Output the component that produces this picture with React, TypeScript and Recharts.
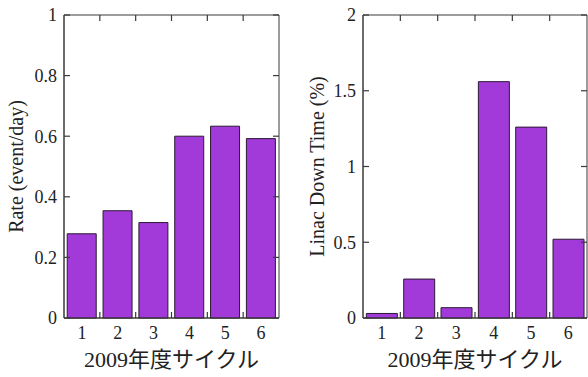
import React from 'react';
import { BarChart, Bar, XAxis, YAxis, ReferenceArea } from 'recharts';

const cycles = ['1', '2', '3', '4', '5', '6'];
const rateValues = [0.278, 0.354, 0.315, 0.6, 0.633, 0.592];
const downTimeValues = [0.03, 0.257, 0.068, 1.56, 1.26, 0.52];
const rateTicks = [0, 0.2, 0.4, 0.6, 0.8, 1];
const downTimeTicks = [0, 0.5, 1, 1.5, 2];
const xTitle = '2009年度サイクル';

const FONT = "'Liberation Serif', 'Times New Roman', 'Noto Sans CJK JP', serif";
const INK = '#222';
const FRAME = '#3a3a3a';
const PURPLE = '#a23ad9';
const TOP = 15;
const TICK = 6;

type PanelProps = {
  left: number;
  width: number;
  values: number[];
  ticks: number[];
  max: number;
  yLabel: string;
  yAxisWidth: number;
  labelOffset: number;
  marginRight: number;
};

function Panel({ left, width, values, ticks, max, yLabel, yAxisWidth, labelOffset, marginRight }: PanelProps) {
  const data = cycles.map((c, i) => ({ cycle: c, v: values[i] }));
  const plotW = width - marginRight - yAxisWidth;
  const band = plotW / cycles.length;

  // category label + inward ticks at the category boundaries (bottom and top)
  function renderXTick(props: any) {
    const { x, y, payload, index } = props;
    const axisY = y - 8;
    const bx = x + band / 2;
    return (
      <g key={`xt-${index}`}>
        {index < cycles.length - 1 && (
          <g stroke={FRAME} strokeWidth={1.2}>
            <line x1={bx} x2={bx} y1={axisY} y2={axisY - TICK} />
            <line x1={bx} x2={bx} y1={TOP} y2={TOP + TICK} />
          </g>
        )}
        <text x={x} y={y} dy="0.71em" textAnchor="middle" fontFamily={FONT} fontSize={18} fill={INK}>
          {payload.value}
        </text>
      </g>
    );
  }

  // value label + inward ticks on the left and right frame
  function renderYTick(props: any) {
    const { x, y, payload, index } = props;
    const axisX = x + 7;
    return (
      <g key={`yt-${index}`}>
        <g stroke={FRAME} strokeWidth={1.2}>
          <line x1={axisX} x2={axisX + TICK} y1={y} y2={y} />
          <line x1={axisX + plotW - TICK} x2={axisX + plotW} y1={y} y2={y} />
        </g>
        <text x={x} y={y} dy="0.35em" textAnchor="end" fontFamily={FONT} fontSize={18} fill={INK}>
          {payload.value}
        </text>
      </g>
    );
  }

  return (
    <div style={{ position: 'absolute', left, top: 0, fontFamily: FONT }}>
      <BarChart
        width={width}
        height={377}
        data={data}
        margin={{ top: TOP, right: marginRight, left: 0, bottom: 0 }}
        barCategoryGap="9%"
      >
        <Bar dataKey="v" fill={PURPLE} stroke="#2a1a33" strokeWidth={1} isAnimationActive={false} />
        <ReferenceArea y1={0} y2={max} fill="none" stroke={FRAME} strokeWidth={1} ifOverflow="visible" />
        <XAxis
          dataKey="cycle"
          height={59}
          tickLine={false}
          axisLine={{ stroke: FRAME }}
          tickSize={0}
          tickMargin={8}
          tick={renderXTick}
          label={{ value: xTitle, position: 'insideBottom', offset: 10, fill: INK, fontSize: 22, fontFamily: FONT }}
        />
        <YAxis
          domain={[0, max]}
          ticks={ticks}
          width={yAxisWidth}
          axisLine={{ stroke: FRAME }}
          tickLine={false}
          tickSize={0}
          tickMargin={7}
          tick={renderYTick}
          label={{
            value: yLabel,
            angle: -90,
            position: 'insideLeft',
            offset: labelOffset,
            fill: INK,
            fontSize: 20,
            fontFamily: FONT,
            style: { textAnchor: 'middle' },
          }}
        />
      </BarChart>
    </div>
  );
}

export default function App() {
  return (
    <div style={{ position: 'absolute', left: 0, top: 0, width: 588, height: 377 }}>
      <Panel
        left={0}
        width={290}
        values={rateValues}
        ticks={rateTicks}
        max={1}
        yLabel="Rate (event/day)"
        yAxisWidth={64}
        labelOffset={16}
        marginRight={11}
      />
      <Panel
        left={290}
        width={298}
        values={downTimeValues}
        ticks={downTimeTicks}
        max={2}
        yLabel="Linac Down Time (%)"
        yAxisWidth={73}
        labelOffset={27}
        marginRight={1}
      />
    </div>
  );
}
